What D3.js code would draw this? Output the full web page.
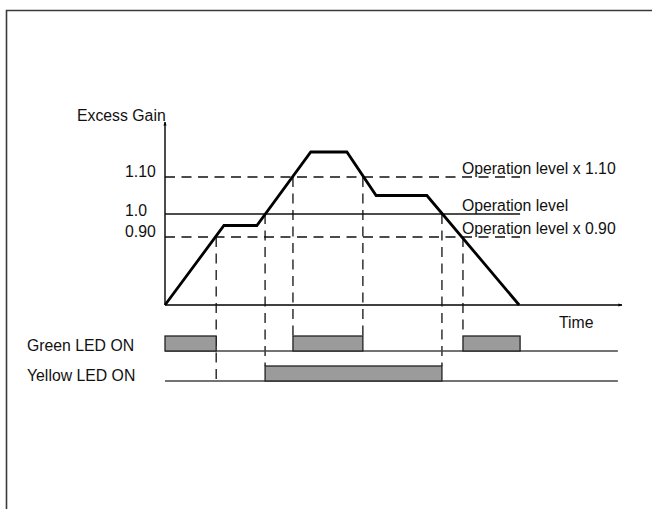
<!DOCTYPE html>
<html>
<head>
<meta charset="utf-8">
<script src="https://cdn.jsdelivr.net/npm/d3@7/dist/d3.min.js"></script>
<style>
  html, body { margin: 0; padding: 0; background: #fff; }
  svg { display: block; }
  text { font-family: "Liberation Sans", Arial, Helvetica, sans-serif; font-size: 15.8px; fill: #111; }
</style>
</head>
<body>
<svg id="chart" width="652" height="509"></svg>
<script>
// ---- data ----
const curveTime = [0, 12.9, 20.1, 31.9, 39.8, 46.2, 57.3, 77.5];
const curveGain = [0, 0.95, 0.95, 1.2, 1.2, 1.05, 1.05, 0];

const levelValues = [1.10, 1.0, 0.90];
const levelTicks = ["1.10", "1.0", "0.90"];
const levelNames = ["Operation level x 1.10", "Operation level", "Operation level x 0.90"];
const levelDashed = [true, false, true];
const levelEndTime = 77.7;

const markerTimes = [11.2, 21.9, 28.0, 43.3, 60.6, 65.2];
const markerLevels = [0.90, 1.0, 1.10, 1.10, 1.0, 0.90];
const markerEnds = ["yellowBase", "yellowTop", "greenTop", "greenTop", "yellowTop", "greenTop"];

const greenOn = [[0, 11.2], [28.0, 43.3], [65.2, 77.7]];
const yellowOn = [[21.9, 60.6]];
const ledRowNames = ["Green LED ON", "Yellow LED ON"];
const ledLineEnd = 99.1;

const timeMax = 100;
const gainMax = 1.32;

// ---- scales ----
const x = d3.scaleLinear().domain([0, timeMax]).range([165, 622]);
const y = d3.scaleLinear().domain([0, 0.9, 1.0, 1.1, 1.2]).range([305, 237, 214, 177, 152]);

const svg = d3.select("#chart");

// frame
svg.append("path").attr("d", "M6.5,509V10.5H652")
  .attr("fill", "none").attr("stroke", "#3a3a3a").attr("stroke-width", 1.6);

// arrow marker
const defs = svg.append("defs");
defs.append("marker").attr("id", "arr").attr("viewBox", "0 0 10 10")
  .attr("refX", 9).attr("refY", 5).attr("markerWidth", 4).attr("markerHeight", 4)
  .attr("orient", "auto").attr("markerUnits", "userSpaceOnUse")
  .append("path").attr("d", "M0,1L10,5L0,9Z").attr("fill", "#000");

// axes
svg.append("line").attr("x1", x(0)).attr("y1", y(0)).attr("x2", x(timeMax)).attr("y2", y(0))
  .attr("stroke", "#000").attr("stroke-width", 1.4).attr("marker-end", "url(#arr)");
svg.append("line").attr("x1", x(0)).attr("y1", y(0)).attr("x2", x(0)).attr("y2", y(gainMax))
  .attr("stroke", "#000").attr("stroke-width", 1.4).attr("marker-end", "url(#arr)");

svg.append("text").attr("x", 77).attr("y", 121).text("Excess Gain");
svg.append("text").attr("x", 559).attr("y", 328).text("Time");

// levels
levelValues.forEach((v, i) => {
  svg.append("line").attr("x1", x(0)).attr("x2", x(levelEndTime))
    .attr("y1", y(v)).attr("y2", y(v))
    .attr("stroke", "#111").attr("stroke-width", 1.3)
    .attr("stroke-dasharray", levelDashed[i] ? "10,6.5" : null);
  svg.append("text").attr("x", 125).attr("y", y(v) + (i === 1 ? 2 : 0)).text(levelTicks[i]);
  svg.append("text").attr("x", 462).attr("y", y(v) - 3).text(levelNames[i]);
});

// LED rows
const rows = {
  green: { top: 336, base: 351 },
  yellow: { top: 366, base: 381 }
};
const endY = {
  greenTop: rows.green.top, greenBase: rows.green.base,
  yellowTop: rows.yellow.top, yellowBase: rows.yellow.base
};

// marker verticals
markerTimes.forEach((t, i) => {
  svg.append("line").attr("x1", x(t)).attr("x2", x(t))
    .attr("y1", y(markerLevels[i])).attr("y2", endY[markerEnds[i]])
    .attr("stroke", "#111").attr("stroke-width", 1.3).attr("stroke-dasharray", "10,6.5");
});

// LED baselines & rects
[["green", greenOn], ["yellow", yellowOn]].forEach(([k, ivs], ri) => {
  const r = rows[k];
  svg.append("line").attr("x1", x(0)).attr("x2", x(ledLineEnd))
    .attr("y1", r.base).attr("y2", r.base)
    .attr("stroke", "#444").attr("stroke-width", 1.6);
  svg.selectAll(null).data(ivs).enter().append("rect")
    .attr("x", d => x(d[0])).attr("width", d => x(d[1]) - x(d[0]))
    .attr("y", r.top).attr("height", r.base - r.top)
    .attr("fill", "#9b9b9b").attr("stroke", "#222").attr("stroke-width", 1.3);
  svg.append("text").attr("x", 27).attr("y", r.base).text(ledRowNames[ri]);
});

// gain curve
const pts = curveTime.map((t, i) => [t, curveGain[i]]);
svg.append("path").datum(pts)
  .attr("d", d3.line().x(d => x(d[0])).y(d => y(d[1])))
  .attr("fill", "none").attr("stroke", "#000").attr("stroke-width", 2.8)
  .attr("stroke-linejoin", "miter");
</script>
</body>
</html>
